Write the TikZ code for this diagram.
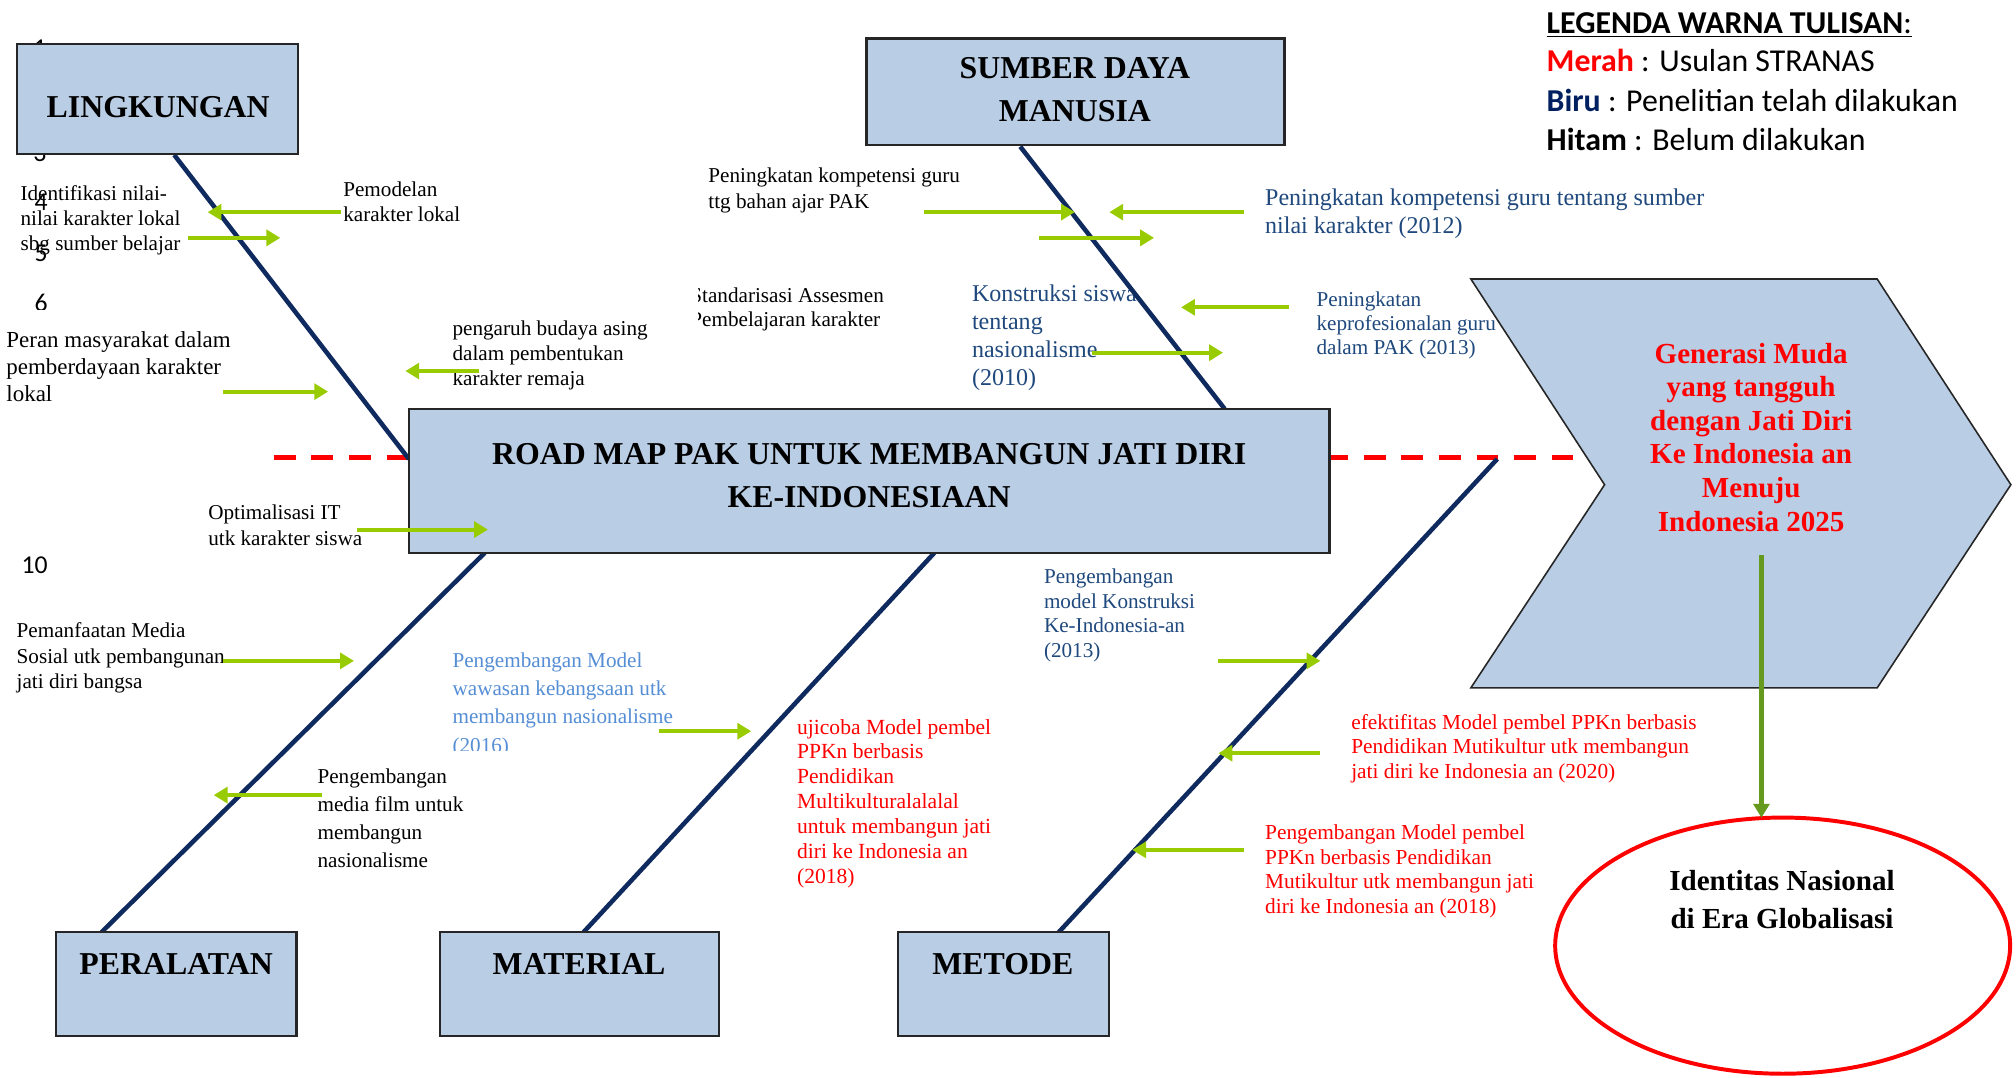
\documentclass[tikz,border=0pt]{standalone}
\usepackage{fontspec}
\setmainfont{Liberation Serif}
\newfontfamily\calib{Carlito}
\usetikzlibrary{arrows.meta,fit,shapes.geometric}
\definecolor{boxblue}{HTML}{B9CDE5}
\definecolor{bonecol}{HTML}{0F2A5E}
\definecolor{garrow}{HTML}{99CC00}
\definecolor{gdark}{HTML}{669A1F}
\definecolor{txtblue}{HTML}{1F497D}
\definecolor{ltblue}{HTML}{558ED5}
\definecolor{legblue}{HTML}{002060}
\tikzset{
  every node/.style={inner sep=0pt, outer sep=0pt},
  boxnode/.style={draw=black!85, line width=1.1pt, fill=boxblue},
  boldlab/.style={font=\bfseries\fontsize{16.1}{21.5}\selectfont, align=center},
  txt/.style={anchor=north west, align=left, yshift=-1.3pt},
  numtxt/.style={font=\calib\fontsize{13}{16}\selectfont, anchor=center},
  legtxt/.style={font=\calib\fontsize{16.1}{19.5}\selectfont, anchor=base west},
  bonel/.style={draw=bonecol, line width=2.3pt},
  garr/.style={draw=garrow, line width=2.1pt, -{Triangle[length=7pt,width=8pt]}},
  varr/.style={draw=gdark, line width=2.1pt, -{Triangle[length=7pt,width=8pt]}},
  reddash/.style={draw=red, line width=2.6pt, dash pattern=on 11pt off 8pt},
  chev/.style={draw=black!85, line width=0.8pt, fill=boxblue},
}
\begin{document}
\begin{tikzpicture}[x=0.65pt,y=-0.65pt]
\useasboundingbox (0,0) rectangle (1568,838);
\fill[white] (0,0) rectangle (1568,838);

% stray line numbers
\node[numtxt] (n1) at (31,37.7) {1};
\node[numtxt] (n3) at (31,119.5) {3};
\node[numtxt] (n4) at (32,157.5) {4};
\node[numtxt] (n5) at (32,197) {5};
\begin{scope}
  \clip (0,0) rectangle (100,241);
  \node[numtxt] (n6) at (32,235.5) {6};
\end{scope}
\node[numtxt] (n10) at (27,440) {10};

% spine
\draw[reddash] (213,356) coordinate (dl) -- (1248,356) coordinate (dr);

% texts
\node[txt, font=\fontsize{10.7}{12.5}\selectfont] (t1) at (267,139.6) {Pemodelan\\karakter lokal};
\node[txt, font=\fontsize{10.7}{12.5}\selectfont] (t2) at (16,142.6) {Identifikasi nilai-\\nilai karakter lokal\\sbg sumber belajar};
\node[txt, font=\fontsize{11.6}{13.65}\selectfont] (t3) at (5,256) {Peran masyarakat dalam\\pemberdayaan karakter\\lokal};
\node[txt, font=\fontsize{10.7}{12.7}\selectfont] (t4) at (352,247.6) {pengaruh budaya asing\\dalam pembentukan\\karakter remaja};
\node[txt, font=\fontsize{10.7}{13}\selectfont] (t5) at (551,128.6) {Peningkatan kompetensi guru\\ttg bahan ajar PAK};
\begin{scope}
  \clip (543,200) rectangle (745,272);
  \node[txt, font=\fontsize{10.7}{12.5}\selectfont] (t6) at (537,221.6) {Standarisasi Assesmen\\Pembelajaran karakter};
\end{scope}
\node[txt, text=txtblue, font=\fontsize{12.15}{14.2}\selectfont] (t7) at (756,219.6) {Konstruksi siswa\\tentang\\nasionalisme\\(2010)};
\node[txt, text=txtblue, font=\fontsize{12.15}{14.3}\selectfont] (t8) at (984,144.6) {Peningkatan kompetensi guru tentang sumber\\nilai karakter (2012)};
\node[txt, text=txtblue, font=\fontsize{10.7}{12.35}\selectfont] (t9) at (1024,224.6) {Peningkatan\\keprofesionalan guru\\dalam PAK (2013)};
\node[txt, font=\fontsize{10.7}{13}\selectfont] (t10) at (162,390.6) {Optimalisasi IT\\utk karakter siswa};
\node[txt, font=\fontsize{10.7}{12.7}\selectfont] (t11) at (13,482.6) {Pemanfaatan Media\\Sosial utk pembangunan\\jati diri bangsa};
\begin{scope}
  \clip (340,490) rectangle (560,584);
  \node[txt, text=ltblue, font=\fontsize{10.7}{14.3}\selectfont] (t12) at (352,505.6) {Pengembangan Model\\wawasan kebangsaan utk\\membangun nasionalisme\\(2016)};
\end{scope}
\node[txt, font=\fontsize{10.7}{14.3}\selectfont] (t13) at (247,595.6) {Pengembangan\\media film untuk\\membangun\\nasionalisme};
\node[txt, text=red, font=\fontsize{10.9}{12.55}\selectfont] (t14) at (620,557.3) {ujicoba Model pembel\\PPKn berbasis\\Pendidikan\\Multikulturalalalal\\untuk membangun jati\\diri ke Indonesia an\\(2018)};
\node[txt, text=txtblue, font=\fontsize{10.7}{12.35}\selectfont] (t15) at (812,440.6) {Pengembangan\\model Konstruksi\\Ke-Indonesia-an\\(2013)};
\node[txt, text=red, font=\fontsize{10.8}{12.4}\selectfont] (t16) at (1051,553.6) {efektifitas Model pembel PPKn berbasis\\Pendidikan Mutikultur utk membangun\\jati diri ke Indonesia an (2020)};
\node[txt, text=red, font=\fontsize{10.8}{12.4}\selectfont] (t17) at (984,639.6) {Pengembangan Model pembel\\PPKn berbasis Pendidikan\\Mutikultur utk membangun jati\\diri ke Indonesia an (2018)};

% bones
\draw[bonel] (135.5,120.5) coordinate (b1a) -- (318,357) coordinate (b1b);
\draw[bonel] (793.5,114) coordinate (b2a) -- (952.5,318) coordinate (b2b);
\draw[bonel] (377,430) coordinate (b3a) -- (79,725) coordinate (b3b);
\draw[bonel] (726.7,430) coordinate (b4a) -- (453.9,725) coordinate (b4b);
\draw[bonel] (1164.5,357) coordinate (b5a) -- (823.5,725) coordinate (b5b);

% boxes
\node[boxnode, fit={(13,34) (232,120)}] (ling) {};
\node[boxnode, fit={(674,30) (999,113)}] (sdm) {};
\node[boxnode, fit={(318,318) (1034,430)}] (main) {};
\node[boxnode, fit={(43.6,725) (230.6,805.5)}] (peral) {};
\node[boxnode, fit={(342.3,725) (559,805.5)}] (mater) {};
\node[boxnode, fit={(698.4,725) (862.6,805.5)}] (metod) {};
\node[boldlab] (lingt) at (123,83) {LINGKUNGAN};
\node[boldlab] (sdmt) at (836,69.5) {SUMBER DAYA\\MANUSIA};
\node[boldlab, font=\bfseries\fontsize{16.1}{22}\selectfont] (maint) at (676,370) {ROAD MAP PAK UNTUK MEMBANGUN JATI DIRI\\KE-INDONESIAAN};
\node[boldlab] (peralt) at (137,749.5) {PERALATAN};
\node[boldlab] (matert) at (450.4,749.5) {MATERIAL};
\node[boldlab] (metodt) at (780,749.5) {METODE};

% goal chevron
\draw[chev] (1144,217) coordinate (c1) -- (1460,217) coordinate (c2) -- (1564,377) coordinate (c3)
  -- (1460,535) coordinate (c4) -- (1144,535) coordinate (c5) -- (1248,377) coordinate (c6) -- cycle;
\node[align=center, text=red, font=\bfseries\fontsize{14.7}{17}\selectfont] (goal) at (1362,340)
  {Generasi Muda\\yang tangguh\\dengan Jati Diri\\Ke Indonesia an\\Menuju\\Indonesia 2025};

% ellipse
\node[ellipse, draw=red, line width=2pt, fill=white, minimum width=230pt, minimum height=129.5pt] (ell) at (1386.5,735.5) {};
\node[align=center, font=\bfseries\fontsize{14.7}{19.5}\selectfont] (ellt) at (1386,699.5) {Identitas Nasional\\di Era Globalisasi};

\draw[varr] (1370,432) coordinate (va) -- (1370,636) coordinate (vb);

% green arrows
\draw[garr] (265,165) coordinate (a1s) -- (161.5,165) coordinate (a1e);
\draw[garr] (146,185) coordinate (a2s) -- (218,185) coordinate (a2e);
\draw[garr] (372.6,288.6) coordinate (a3s) -- (315.3,288.6) coordinate (a3e);
\draw[garr] (173.6,304.6) coordinate (a4s) -- (255.2,304.6) coordinate (a4e);
\draw[garr] (718.5,165) coordinate (b1s) -- (836,165) coordinate (b1e);
\draw[garr] (967.6,165) coordinate (b2s) -- (862.8,165) coordinate (b2e);
\draw[garr] (808,185) coordinate (b3s) -- (897.6,185) coordinate (b3e);
\draw[garr] (1002.6,239) coordinate (b4s) -- (918.6,239) coordinate (b4e);
\draw[garr] (849.4,274.3) coordinate (b5s) -- (951.2,274.3) coordinate (b5e);
\draw[garr] (277.8,411.9) coordinate (c1s) -- (379.5,411.9) coordinate (c1e);
\draw[garr] (173.6,514) coordinate (c2s) -- (275.3,514) coordinate (c2e);
\draw[garr] (512.4,568.7) coordinate (c3s) -- (584.3,568.7) coordinate (c3e);
\draw[garr] (250.5,618.4) coordinate (c4s) -- (166.2,618.4) coordinate (c4e);
\draw[garr] (947.7,514) coordinate (d1s) -- (1027,514) coordinate (d1e);
\draw[garr] (1027,585.8) coordinate (d2s) -- (947.7,585.8) coordinate (d2e);
\draw[garr] (967.3,661) coordinate (d3s) -- (880.6,661) coordinate (d3e);

% legend
\node[legtxt] (leg0) at (1203,25.8) {\underline{\textbf{LEGENDA WARNA TULISAN}:}};
\node[legtxt] (leg1) at (1203,55.8) {\textcolor{red}{\textbf{Merah}} : Usulan STRANAS};
\node[legtxt] (leg2) at (1203,86.8) {\textcolor{legblue}{\textbf{Biru}} : Penelitian telah dilakukan};
\node[legtxt] (leg3) at (1203,116.8) {\textbf{Hitam} : Belum dilakukan};
\end{tikzpicture}
\end{document}
